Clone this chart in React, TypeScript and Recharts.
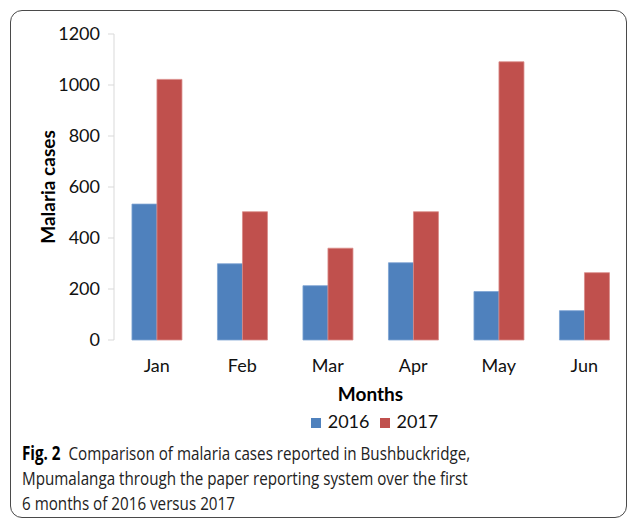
import React from 'react';
import { BarChart, Bar, XAxis, YAxis, Legend } from 'recharts';

const months = ['Jan', 'Feb', 'Mar', 'Apr', 'May', 'Jun'];
const cases2016 = [533, 299, 213, 303, 190, 115];
const cases2017 = [1022, 503, 360, 503, 1091, 264];
const yTicks = [0, 200, 400, 600, 800, 1000, 1200];

const data = months.map((m, i) => ({ month: m, y2016: cases2016[i], y2017: cases2017[i] }));

const chartFont = 'Lato, "Open Sans", sans-serif';

export default function App() {
  return (
    <div style={{ position: 'absolute', left: 0, top: 0, width: 629, height: 522, background: '#fff', overflow: 'hidden' }}>
      <div
        style={{
          position: 'absolute',
          left: 10,
          top: 10,
          width: 617,
          height: 508,
          border: '1.5px solid #4a4a4a',
          borderRadius: 12,
          boxSizing: 'border-box',
        }}
      />
      <div style={{ position: 'absolute', left: 0, top: 0 }}>
        <BarChart
          width={629}
          height={432}
          data={data}
          margin={{ top: 34, right: 2, bottom: 0, left: 0 }}
          barCategoryGap="21%"
          barGap={0}
        >
          <YAxis
            width={114}
            domain={[0, 1200]}
            ticks={yTicks}
            interval={0}
            tickSize={6}
            tickMargin={8}
            axisLine={{ stroke: '#d9d9d9' }}
            tickLine={{ stroke: '#d9d9d9' }}
            tick={{ fill: '#111', fontSize: 18, fontFamily: chartFont }}
            label={{
              value: 'Malaria cases',
              angle: -90,
              position: 'insideLeft',
              offset: 48,
              textAnchor: 'middle',
              style: { fill: '#000', fontSize: 19, fontWeight: 700, fontFamily: chartFont, textAnchor: 'middle' },
            }}
          />
          <XAxis
            dataKey="month"
            height={70}
            axisLine={false}
            tickLine={false}
            tickSize={6}
            tickMargin={13}
            tick={{ fill: '#111', fontSize: 18, fontFamily: chartFont }}
            label={{
              value: 'Months',
              position: 'insideBottom',
              offset: 9,
              style: { fill: '#000', fontSize: 19, fontWeight: 700, fontFamily: chartFont },
            }}
          />
          <Legend
            verticalAlign="bottom"
            align="center"
            iconType="square"
            iconSize={10}
            wrapperStyle={{ height: 22, fontFamily: chartFont, fontSize: 18, lineHeight: '22px', padding: 0, paddingLeft: 66 }}
            formatter={(value) => <span style={{ color: '#111', marginLeft: 3 }}>{value}</span>}
          />
          <Bar dataKey="y2016" name="2016" fill="#4F81BD" stroke="#7ea3d3" strokeWidth={0.8} isAnimationActive={false} />
          <Bar dataKey="y2017" name="2017" fill="#C0504D" stroke="#d98a88" strokeWidth={0.8} isAnimationActive={false} />
        </BarChart>
      </div>
      <div
        style={{
          position: 'absolute',
          left: 22,
          top: 441,
          width: 700,
          fontFamily: '"Open Sans", "Noto Sans", sans-serif',
          fontSize: 19,
          lineHeight: '25px',
          color: '#222',
          transform: 'scaleX(0.8)',
          transformOrigin: 'left top',
          whiteSpace: 'nowrap',
        }}
      >
        <span style={{ fontWeight: 700, color: '#000' }}>Fig. 2</span>&nbsp; Comparison of malaria cases reported in Bushbuckridge,
        <br />
        Mpumalanga through the paper reporting system over the first
        <br />6 months of 2016 versus 2017
      </div>
    </div>
  );
}
